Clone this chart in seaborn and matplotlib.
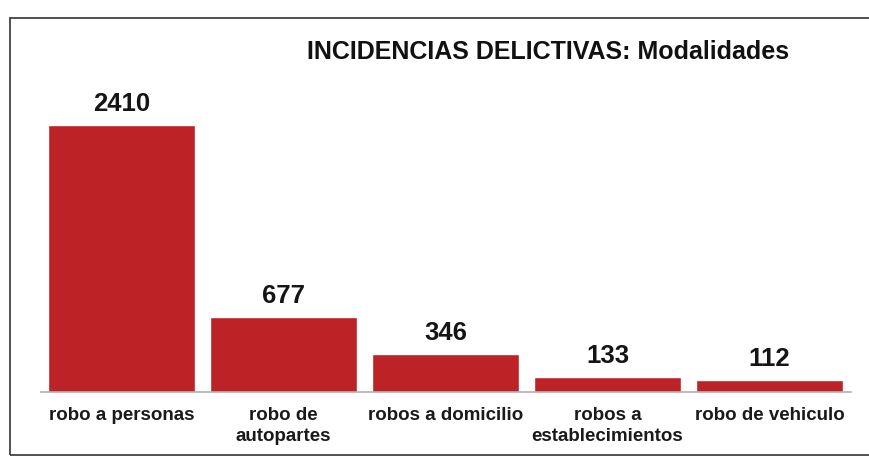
import matplotlib
matplotlib.use("Agg")
import matplotlib.pyplot as plt
import seaborn as sns
import pandas as pd
from matplotlib.patches import Rectangle

# Data
categorias = ["robo a personas", "robo de\nautopartes", "robos a domicilio",
              "robos a\nestablecimientos", "robo de vehiculo"]
incidencias = [2410, 677, 346, 133, 112]

df = pd.DataFrame({"categoria": categorias, "incidencias": incidencias})

sns.set_style("white")
plt.rcParams["font.family"] = ["Liberation Sans", "DejaVu Sans"]

fig = plt.figure(figsize=(8.69, 4.73), dpi=100)
ax = fig.add_axes([40.5 / 869, 81 / 473, 810 / 869, 332 / 473])

sns.barplot(data=df, x="categoria", y="incidencias", color="#bd2226",
            saturation=1, width=0.91, ax=ax)

for i, v in enumerate(incidencias):
    ax.text(i, v + 80, str(v), ha="center", va="bottom",
            fontsize=18.5, fontweight="bold", color="#151515")

ax.set_ylim(0, 2997)
ax.set_xlim(-0.5, len(categorias) - 0.5)
ax.set_xlabel("")
ax.set_ylabel("")
ax.set_yticks([])
for s in ["top", "right", "left"]:
    ax.spines[s].set_visible(False)
ax.spines["bottom"].set_color("#b0b0b0")
ax.spines["bottom"].set_linewidth(1.2)

ax.set_xticks(range(len(categorias)))
ax.set_xticklabels(categorias, fontsize=13.5, fontweight="bold", color="#1a1a1a",
                   linespacing=1.25)
ax.tick_params(axis="x", which="major", length=0, pad=11)
ax.set_xticks([i - 0.5 for i in range(len(categorias) + 1)], minor=True)
ax.tick_params(axis="x", which="minor", length=4, color="#b0b0b0", direction="out")
ax.patch.set_alpha(0)

fig.text(548 / 869, 1 - 52 / 473, "INCIDENCIAS DELICTIVAS: Modalidades",
         ha="center", va="center", fontsize=18, fontweight="bold",
         family=["Liberation Sans Narrow", "Liberation Sans", "DejaVu Sans"],
         color="#111111")

# chart frame
fig.patches.append(Rectangle((10 / 869, 18 / 473), 880 / 869, 437 / 473,
                             transform=fig.transFigure, fill=False,
                             edgecolor="#333333", linewidth=1.2, zorder=-1))

fig.savefig("out.png", dpi=100)
